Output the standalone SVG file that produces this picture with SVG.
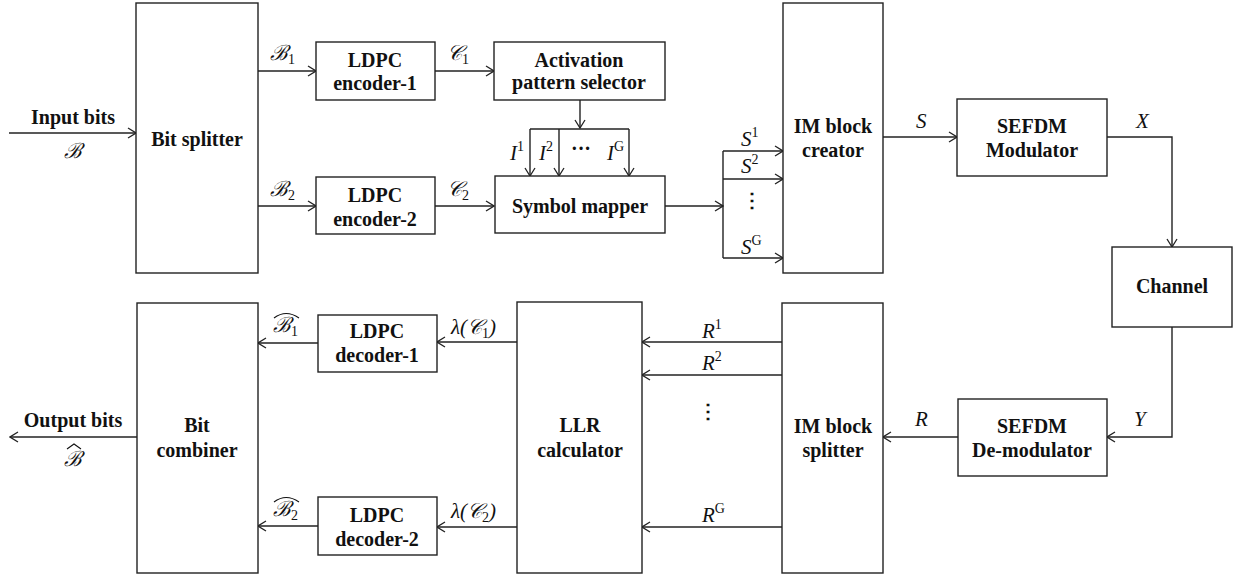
<svg xmlns="http://www.w3.org/2000/svg" width="1237" height="578" viewBox="0 0 1237 578">
<style>
.box{fill:#fff;stroke:#222;stroke-width:1.4}
.ln{fill:none;stroke:#222;stroke-width:1.4}
.arr{fill:none;stroke:#222;stroke-width:1.4;marker-end:url(#ah)}
.t{font-family:"Liberation Serif","Times New Roman",serif;font-weight:700;font-size:20px;fill:#111;text-anchor:middle}
.m{font-family:"Liberation Serif","DejaVu Serif",serif;font-style:italic;font-size:21px;fill:#111}
.s{font-size:14px;font-style:normal}
.hat{fill:none;stroke:#111;stroke-width:1.1}
</style>
<defs>
<marker id="ah" markerWidth="10" markerHeight="12" refX="9" refY="6" orient="auto" markerUnits="userSpaceOnUse">
<path d="M1,1 L9,6 L1,11" fill="none" stroke="#222" stroke-width="1.3"/>
</marker>
</defs>

<g id="connectors">
<line class="arr" x1="9" y1="133" x2="136" y2="133"/>
<line class="arr" x1="258" y1="71" x2="316" y2="71"/>
<line class="arr" x1="258" y1="206" x2="316" y2="206"/>
<line class="arr" x1="435" y1="71" x2="494" y2="71"/>
<line class="arr" x1="435" y1="206" x2="494" y2="206"/>
<line class="arr" x1="580" y1="100" x2="580" y2="128"/>
<line class="ln" x1="530" y1="129" x2="629" y2="129"/>
<line class="arr" x1="530" y1="129" x2="530" y2="176"/>
<line class="arr" x1="559" y1="129" x2="559" y2="176"/>
<line class="arr" x1="629" y1="129" x2="629" y2="176"/>
<line class="arr" x1="665" y1="206" x2="723" y2="206"/>
<line class="ln" x1="723" y1="151" x2="723" y2="258"/>
<line class="arr" x1="723" y1="151" x2="783" y2="151"/>
<line class="arr" x1="723" y1="179" x2="783" y2="179"/>
<line class="arr" x1="723" y1="258" x2="783" y2="258"/>
<line class="arr" x1="883" y1="137" x2="957" y2="137"/>
<polyline class="arr" points="1107,137 1172,137 1172,247"/>
<polyline class="arr" points="1172,327 1172,437 1107,437"/>
<line class="arr" x1="958" y1="437" x2="883" y2="437"/>
<line class="arr" x1="782" y1="342" x2="642" y2="342"/>
<line class="arr" x1="782" y1="375" x2="642" y2="375"/>
<line class="arr" x1="782" y1="527" x2="642" y2="527"/>
<line class="arr" x1="517" y1="342" x2="437" y2="342"/>
<line class="arr" x1="517" y1="527" x2="437" y2="527"/>
<line class="arr" x1="318" y1="343" x2="258" y2="343"/>
<line class="arr" x1="318" y1="526" x2="258" y2="526"/>
<line class="arr" x1="137" y1="437" x2="10" y2="437"/>
</g>

<g id="labels">
<text class="t" x="73" y="124">Input bits</text>
<text class="m" x="73" y="158" text-anchor="middle">ℬ</text>
<text class="m" x="270" y="60">ℬ<tspan class="s" dy="4">1</tspan></text>
<text class="m" x="270" y="196">ℬ<tspan class="s" dy="4">2</tspan></text>
<text class="m" x="447" y="60">𝒞<tspan class="s" dy="4">1</tspan></text>
<text class="m" x="447" y="196">𝒞<tspan class="s" dy="4">2</tspan></text>
<text class="m" x="510" y="160">I<tspan class="s" dy="-9">1</tspan></text>
<text class="m" x="539" y="160">I<tspan class="s" dy="-9">2</tspan></text>
<text class="t" x="581" y="155">···</text>
<text class="m" x="607" y="160">I<tspan class="s" dy="-9">G</tspan></text>
<text class="m" x="741" y="146">S<tspan class="s" dy="-9">1</tspan></text>
<text class="m" x="741" y="173">S<tspan class="s" dy="-9">2</tspan></text>
<text class="t" x="752" y="207">⋮</text>
<text class="m" x="741" y="254">S<tspan class="s" dy="-9">G</tspan></text>
<text class="m" x="916" y="128">S</text>
<text class="m" x="1136" y="128">X</text>
<text class="m" x="1134" y="426">Y</text>
<text class="m" x="915" y="426">R</text>
<text class="m" x="702" y="338">R<tspan class="s" dy="-9">1</tspan></text>
<text class="m" x="702" y="370">R<tspan class="s" dy="-9">2</tspan></text>
<text class="t" x="708" y="418">⋮</text>
<text class="m" x="702" y="522">R<tspan class="s" dy="-9">G</tspan></text>
<text class="m" x="451" y="334">λ(𝒞<tspan class="s" dy="4">1</tspan><tspan dy="-4">)</tspan></text>
<text class="m" x="451" y="518">λ(𝒞<tspan class="s" dy="4">2</tspan><tspan dy="-4">)</tspan></text>
<text class="m" x="273" y="332">ℬ<tspan class="s" dy="4">1</tspan></text>
<path class="hat" d="M274,318 Q286,309 299,318"/>
<text class="m" x="273" y="516">ℬ<tspan class="s" dy="4">2</tspan></text>
<path class="hat" d="M274,502 Q286,493 299,502"/>
<text class="t" x="73" y="427">Output bits</text>
<text class="m" x="73" y="466" text-anchor="middle">ℬ</text>
<path class="hat" d="M67,449 L74,444 L81,449"/>
</g>

<g id="bit-splitter"><rect class="box" x="136" y="3" width="122" height="270"/><text class="t" x="197" y="146">Bit splitter</text></g>
<g id="ldpc-encoder-1"><rect class="box" x="316" y="42" width="119" height="58"/><text class="t" x="375" y="67">LDPC</text><text class="t" x="375" y="90">encoder-1</text></g>
<g id="ldpc-encoder-2"><rect class="box" x="316" y="177" width="119" height="57"/><text class="t" x="375" y="202">LDPC</text><text class="t" x="375" y="226">encoder-2</text></g>
<g id="activation-pattern-selector"><rect class="box" x="494" y="42" width="171" height="58"/><text class="t" x="579" y="67">Activation</text><text class="t" x="579" y="89">pattern selector</text></g>
<g id="symbol-mapper"><rect class="box" x="495" y="176" width="170" height="57"/><text class="t" x="580" y="213">Symbol mapper</text></g>
<g id="im-block-creator"><rect class="box" x="783" y="3" width="100" height="270"/><text class="t" x="833" y="133">IM block</text><text class="t" x="833" y="157">creator</text></g>
<g id="sefdm-modulator"><rect class="box" x="957" y="99" width="150" height="77"/><text class="t" x="1032" y="133">SEFDM</text><text class="t" x="1032" y="157">Modulator</text></g>
<g id="channel"><rect class="box" x="1112" y="247" width="120" height="80"/><text class="t" x="1172" y="293">Channel</text></g>
<g id="sefdm-demodulator"><rect class="box" x="958" y="399" width="149" height="77"/><text class="t" x="1032" y="433">SEFDM</text><text class="t" x="1032" y="457">De-modulator</text></g>
<g id="im-block-splitter"><rect class="box" x="782" y="303" width="101" height="270"/><text class="t" x="833" y="433">IM block</text><text class="t" x="833" y="457">splitter</text></g>
<g id="llr-calculator"><rect class="box" x="517" y="302" width="125" height="271"/><text class="t" x="580" y="432">LLR</text><text class="t" x="580" y="457">calculator</text></g>
<g id="ldpc-decoder-1"><rect class="box" x="318" y="315" width="119" height="57"/><text class="t" x="377" y="338">LDPC</text><text class="t" x="377" y="362">decoder-1</text></g>
<g id="ldpc-decoder-2"><rect class="box" x="318" y="497" width="119" height="58"/><text class="t" x="377" y="522">LDPC</text><text class="t" x="377" y="546">decoder-2</text></g>
<g id="bit-combiner"><rect class="box" x="137" y="303" width="121" height="270"/><text class="t" x="197" y="432">Bit</text><text class="t" x="197" y="457">combiner</text></g>
</svg>
